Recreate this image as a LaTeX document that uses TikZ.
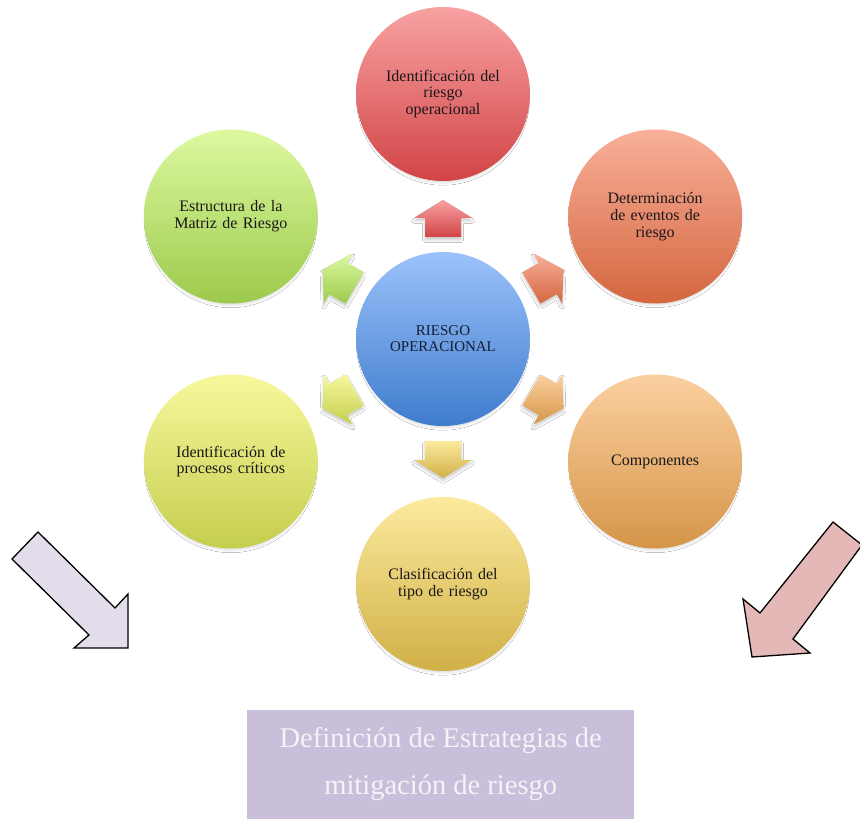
\documentclass[tikz,border=0pt]{standalone}
\usepackage{fontspec}
\setmainfont{Liberation Serif}
\usetikzlibrary{calc,shadows.blur}

% palette
\definecolor{redTop}{HTML}{F8A2A2}\definecolor{redBot}{HTML}{D24446}
\definecolor{salTop}{HTML}{F9B09A}\definecolor{salBot}{HTML}{D4663F}
\definecolor{orgTop}{HTML}{FBD0A0}\definecolor{orgBot}{HTML}{D59548}
\definecolor{golTop}{HTML}{FCEA9E}\definecolor{golBot}{HTML}{D0B046}
\definecolor{limTop}{HTML}{F7F89C}\definecolor{limBot}{HTML}{C4CE4E}
\definecolor{grnTop}{HTML}{DDF9A0}\definecolor{grnBot}{HTML}{9CCA4C}
\definecolor{bluTop}{HTML}{9CC2FA}\definecolor{bluBot}{HTML}{3E7CCD}
\definecolor{inkDark}{HTML}{1A1718}
\definecolor{inkNavy}{HTML}{161E30}
\definecolor{lilacArrow}{HTML}{E3DDEB}
\definecolor{pinkArrow}{HTML}{E5B8B8}
\definecolor{boxLilac}{HTML}{C9BFDB}
\definecolor{boxText}{HTML}{F5F2F8}

\newcommand\bubblefont{\fontsize{16}{16.7}\selectfont}

\tikzset{
  bubble/.style={circle, minimum size=174pt, inner sep=0pt, text width=128pt,
    align=center, font=\bubblefont, text=inkDark,
    blur shadow={shadow xshift=0pt, shadow yshift=-5pt, shadow scale=0.95,
      shadow blur radius=4pt, shadow opacity=22}},
  pointer/.style={blur shadow={shadow xshift=0pt, shadow yshift=-3pt,
      shadow blur radius=2.5pt, shadow opacity=20}},
  bigarrow/.style={draw=black, line width=1.3pt, line join=miter},
}

% block arrow pointing away from the hub at angle #1
\newcommand\spoke[3]{%
  \path[pointer, top color=#2, bottom color=#3]
    ($(hub)+(#1:102)+(#1+90:18)$) -- ($(hub)+(#1:121)+(#1+90:18)$) --
    ($(hub)+(#1:121)+(#1+90:29)$) -- ($(hub)+(#1:139)$) --
    ($(hub)+(#1:121)+(#1-90:29)$) -- ($(hub)+(#1:121)+(#1-90:18)$) --
    ($(hub)+(#1:102)+(#1-90:18)$) -- cycle;}

\begin{document}
\begin{tikzpicture}[x=1pt,y=1pt]
  \clip (0,0) rectangle (860,819);
  \fill[white] (0,0) rectangle (860,819);

  % hub and satellites
  \node[bubble, top color=bluTop, bottom color=bluBot, text=inkNavy,
        font=\fontsize{15}{16}\selectfont] (hub) at (443,480) {RIESGO\\OPERACIONAL};

  \node[bubble, top color=redTop, bottom color=redBot] (ident)
    at ($(hub)+(90:245)$) {Identificación del\\riesgo\\operacional};
  \node[bubble, top color=salTop, bottom color=salBot] (eventos)
    at ($(hub)+(30:245)$) {Determinación\\de eventos de\\riesgo};
  \node[bubble, top color=orgTop, bottom color=orgBot] (compo)
    at ($(hub)+(-30:245)$) {Componentes};
  \node[bubble, top color=golTop, bottom color=golBot] (clasif)
    at ($(hub)+(-90:245)$) {Clasificación del\\tipo de riesgo};
  \node[bubble, top color=limTop, bottom color=limBot] (procesos)
    at ($(hub)+(-150:245)$) {Identificación de\\procesos críticos};
  \node[bubble, top color=grnTop, bottom color=grnBot] (matriz)
    at ($(hub)+(150:245)$) {Estructura de la\\Matriz de Riesgo};

  % pointers from the hub
  \spoke{90}{redTop}{redBot}
  \spoke{30}{salTop}{salBot}
  \spoke{-30}{orgTop}{orgBot}
  \spoke{-90}{golTop}{golBot}
  \spoke{-150}{limTop}{limBot}
  \spoke{150}{grnTop}{grnBot}

  % strategy box
  \node[anchor=south west, minimum width=387pt, minimum height=109pt,
        fill=boxLilac, inner sep=0pt, text=boxText, align=center,
        font=\fontsize{28.5}{47}\selectfont] (strat) at (247,0)
        {Definición de Estrategias de\\mitigación de riesgo};

  % large arrows towards the strategy box
  \draw[bigarrow, fill=lilacArrow]
    (38,287) -- (115,211) -- (128,225) -- (128,171) -- (74,171) -- (89,184) -- (12,260) -- cycle;
  \draw[bigarrow, fill=pinkArrow]
    (833,297) -- (862,274) -- (793,180) -- (810,166) -- (752,162) -- (743,220) -- (760,206) -- cycle;
\end{tikzpicture}
\end{document}
